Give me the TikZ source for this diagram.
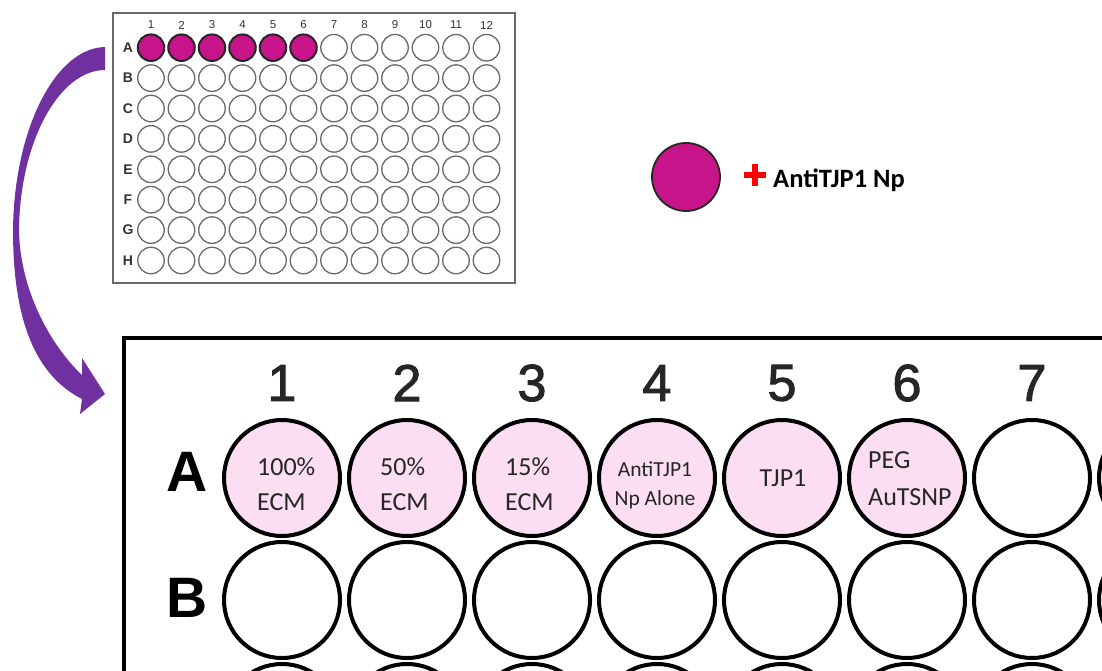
\documentclass[tikz,border=0pt]{standalone}
\usepackage{fontspec}
\setmainfont{Carlito}
\newfontfamily\platefont{Liberation Sans}
\newfontfamily\numfont[FakeBold=2]{Liberation Sans}
\definecolor{wellmagenta}{RGB}{200,20,138}
\definecolor{wellpink}{RGB}{252,222,242}
\definecolor{arrowpurple}{RGB}{112,48,160}
\definecolor{rimgray}{RGB}{105,105,105}
\begin{document}
\begin{tikzpicture}[x=1pt,y=-1pt,
  swell/.style={circle,draw=rimgray,line width=1.3pt,fill=white,minimum size=26.5pt,inner sep=0pt},
  sfill/.style={swell,draw=black!85,fill=wellmagenta,line width=2pt},
  slab/.style={inner sep=0pt,text=black!80,font=\platefont\fontsize{11.5}{11.5}\selectfont},
  srow/.style={slab,font=\platefont\bfseries\fontsize{14}{14}\selectfont},
  bwell/.style={circle,draw,line width=4pt,fill=white,minimum size=116pt,inner sep=0pt},
  bfill/.style={bwell,fill=wellpink},
  blab/.style={inner sep=0pt,text=black!85,font=\numfont\fontsize{52}{52}\selectfont},
  brow/.style={inner sep=0pt,font=\platefont\bfseries\fontsize{57}{57}\selectfont},
  wtxt/.style={inner sep=0pt,align=left,text=black!85,font=\fontsize{26}{35}\selectfont}]
\useasboundingbox (0,0) rectangle (1102,671);
\clip (0,0) rectangle (1102,671);
% small 96 well plate
\draw[rimgray,line width=1.5pt] (113,13) rectangle (515,283);
\foreach \c in {1,...,12} \node[slab] (scol\c) at ({151+(\c-1)*30.5},25) {\c};
\foreach \r [count=\i] in {A,B,C,D,E,F,G,H} {
  \node[srow] (srow\r) at (128,{47.7+(\i-1)*30.4}) {\r};
  \foreach \c in {1,...,12} {
    \ifnum\i=1 \ifnum\c<7 \def\st{sfill}\else\def\st{swell}\fi\else\def\st{swell}\fi
    \node[\st] (s\r\c) at ({151+(\c-1)*30.5},{47.7+(\i-1)*30.4}) {};
  }
}
% key
\node[circle,draw=black!85,line width=1.8pt,fill=wellmagenta,minimum size=68pt] (key) at (686,177) {};
\draw[red,line width=5.5pt] (744,175)--(766,175) (755,164)--(755,186);
\node[anchor=base west,inner sep=0pt,font=\bfseries\fontsize{26.5}{26.5}\selectfont] (keytxt) at (773,187) {AntiTJP1 Np};
% curved arrow
\fill[arrowpurple] (105,47) .. controls (55,48) and (14,130) .. (13,230)
  .. controls (13,320) and (35,375) .. (82,399) -- (80,414) -- (105,394) -- (82,358) -- (82,375)
  .. controls (55,350) and (20,295) .. (19,230) .. controls (20,140) and (60,70) .. (105,70) -- cycle;
% close-up of the plate
\draw[line width=4.5pt] (124,338) rectangle (1200,800);
\foreach \c in {1,...,7} \node[blab] (bcol\c) at ({282+(\c-1)*125},383) {\c};
\node[brow] (browA) at (187,472) {A};
\node[brow] (browB) at (187,598) {B};
\foreach \r/\y [count=\i] in {A/478,B/600,C/722}
  \foreach \c in {1,...,8} {
    \ifnum\i=1 \ifnum\c<7 \def\st{bfill}\else\def\st{bwell}\fi\else\def\st{bwell}\fi
    \node[\st] (b\r\c) at ({282+(\c-1)*125},\y) {};
  }
\node[wtxt,anchor=west] (tA1) at (257,484.5) {100\%\\ECM};
\node[wtxt,anchor=west] (tA2) at (380,484.5) {50\%\\ECM};
\node[wtxt,anchor=west] (tA3) at (505,484.5) {15\%\\ECM};
\node[wtxt,align=center,font=\fontsize{21.5}{29}\selectfont] (tA4) at (655,485) {AntiTJP1\\Np Alone};
\node[wtxt] (tA5) at (783,478) {TJP1};
\node[wtxt,anchor=west,font=\fontsize{26}{37}\selectfont] (tA6) at (868,478.5) {PEG\\AuTSNP};
\end{tikzpicture}
\end{document}
